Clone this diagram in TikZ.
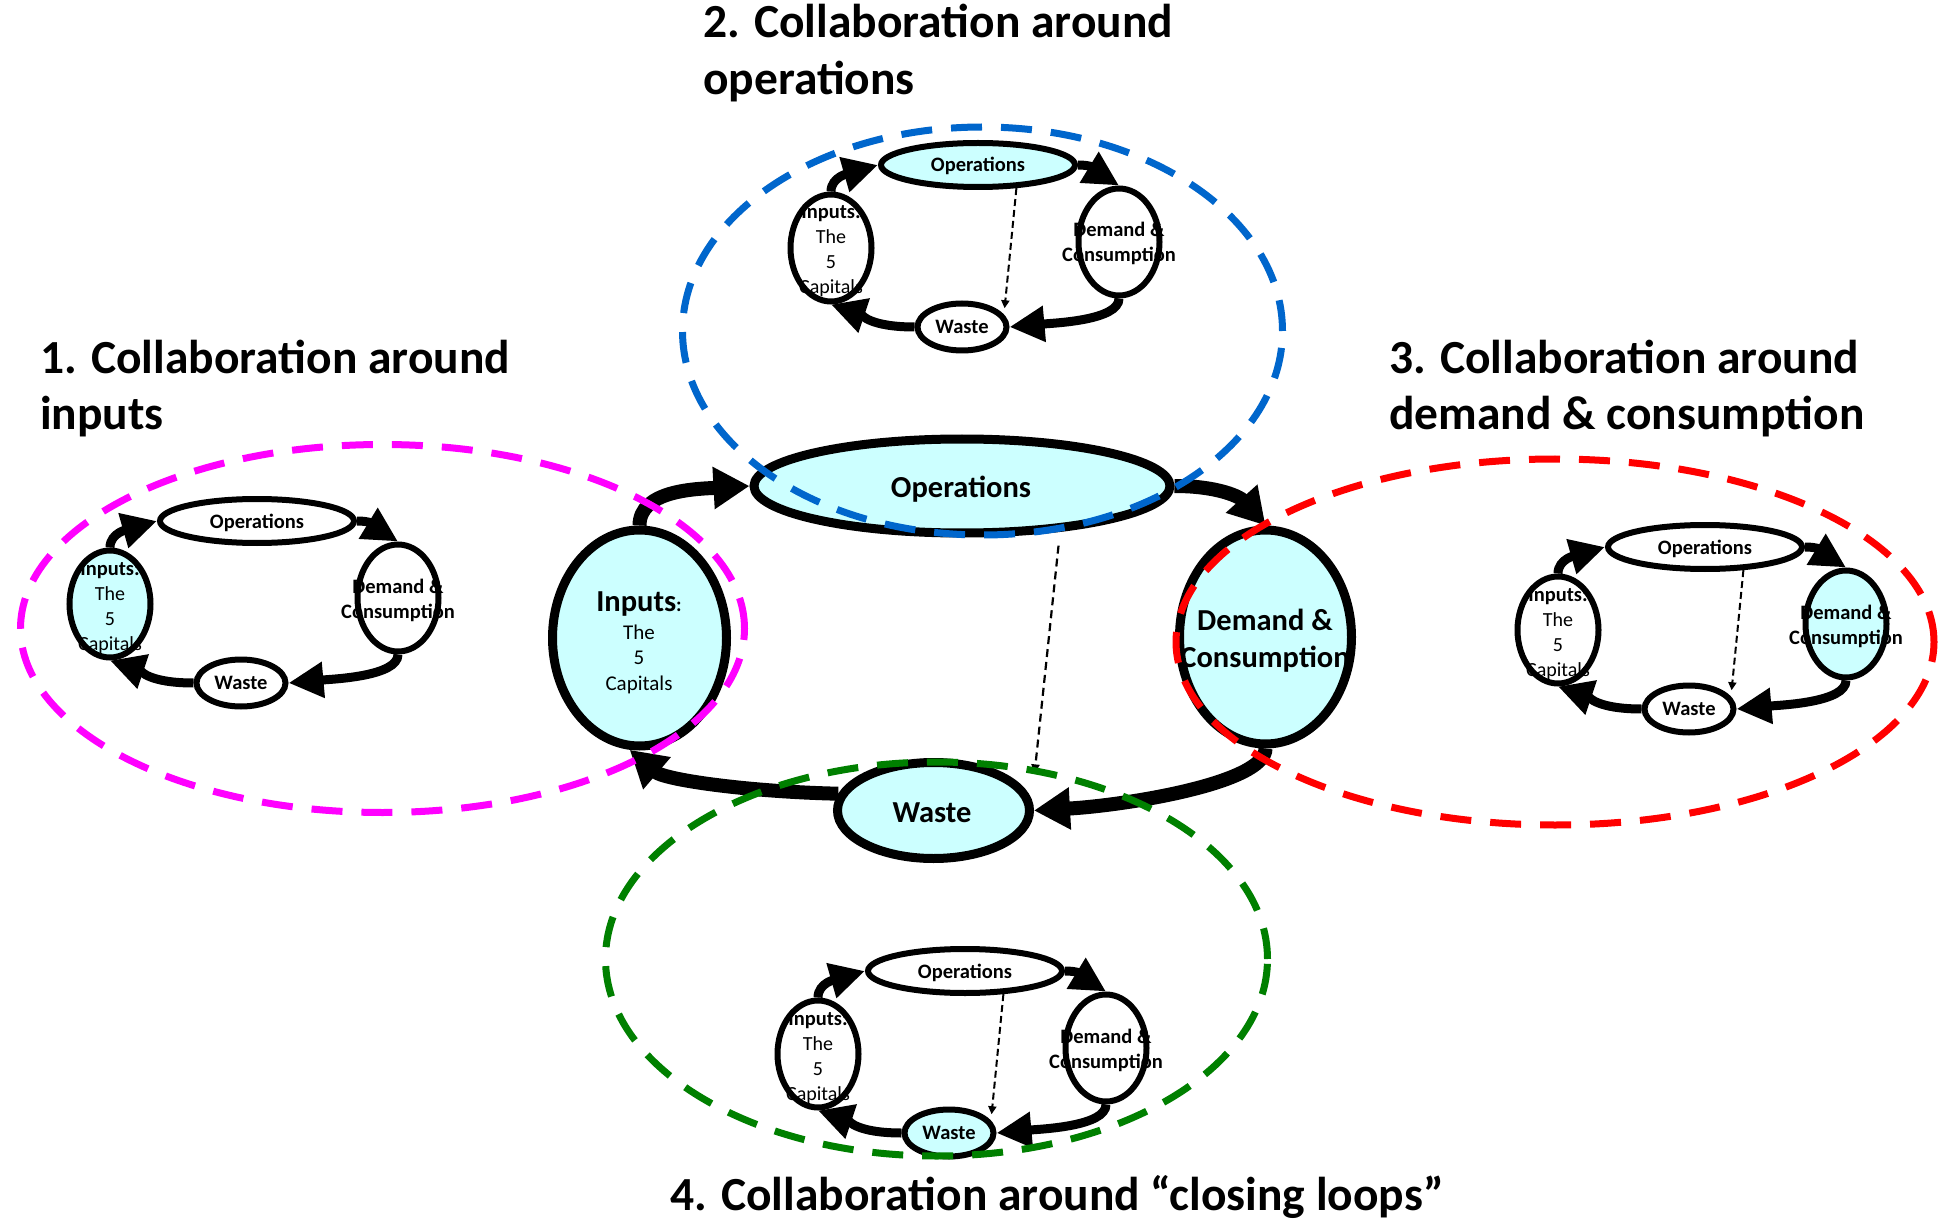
\documentclass[tikz,border=0pt]{standalone}
\usepackage{fontspec}
\setmainfont{Carlito}
\usetikzlibrary{arrows.meta,shapes.geometric}
\definecolor{cy}{RGB}{204,255,255}
\definecolor{mag}{RGB}{255,0,255}
\definecolor{blu}{RGB}{0,102,204}
\definecolor{rd}{RGB}{255,0,0}
\definecolor{grn}{RGB}{0,128,0}
\tikzset{
 cfill/.style={ellipse, inner sep=0pt, outer sep=4.5pt},
 cring/.style={draw=black, line width=9pt},
 carrow/.style={line width=14pt, -{Triangle[length=36pt,width=40pt]}},
 cdash/.style={line width=2.2pt, dash pattern=on 8pt off 5pt, -{Triangle[length=9pt,width=8pt]}},
 ctb/.style={font=\fontsize{30.5}{36}\selectfont\bfseries, anchor=base, inner sep=0pt},
 ctr/.style={font=\fontsize{21}{25}\selectfont, anchor=base, inner sep=0pt},
 sops/.style={ellipse, inner sep=0pt, outer sep=3pt, minimum width=194pt, minimum height=44pt},
 sside/.style={ellipse, inner sep=0pt, outer sep=3pt, minimum width=81pt, minimum height=107pt},
 swaste/.style={ellipse, inner sep=0pt, outer sep=3pt, minimum width=89pt, minimum height=47pt},
 sring/.style={draw=black, line width=6pt},
 sarrow/.style={line width=9pt, -{Triangle[length=35pt,width=34pt]}},
 sdash/.style={line width=2pt, dash pattern=on 7pt off 4pt, -{Triangle[length=8pt,width=8pt]}},
 stb/.style={font=\fontsize{20.5}{24}\selectfont\bfseries, anchor=base, inner sep=0pt},
 str/.style={font=\fontsize{20}{24}\selectfont, anchor=base, inner sep=0pt},
 zone/.style={line width=7pt, dash pattern=on 31pt off 19pt},
 ttl/.style={font=\fontsize{47.5}{56}\selectfont\bfseries, anchor=base west, inner sep=0pt},
}
\newcommand\smalldiag[7]{%
\begin{scope}[shift={(#2,#3)}]
\node[sops,fill=#4] (#1ops) at (0,0) {};
\node[sside,fill=#5] (#1in) at (-147,83) {};
\node[sside,fill=#6] (#1dem) at (141,77) {};
\node[swaste,fill=#7] (#1waste) at (-16,162) {};
\node[stb] (#1opst) at (0,7) {Operations};
\node[stb] (#1inA) at (-147,54) {Inputs:};
\node[str] (#1inB) at (-147,79) {The};
\node[str] (#1inC) at (-147,104) {5};
\node[str] (#1inD) at (-147,129) {Capitals};
\node[stb] (#1demA) at (141,72) {Demand \&};
\node[stb] (#1demB) at (141,97) {Consumption};
\node[stb] (#1wt) at (-16,168.5) {Waste};
\draw[sring] (#1ops.center) ellipse[x radius=97pt,y radius=22pt];
\draw[sring] (#1in.center) ellipse[x radius=40.5pt,y radius=53.5pt];
\draw[sring] (#1dem.center) ellipse[x radius=40.5pt,y radius=53.5pt];
\draw[sring] (#1waste.center) ellipse[x radius=44.5pt,y radius=23.5pt];
\draw[sarrow] (#1in.north) .. controls +(0,-15) and +(-28,8) .. (#1ops.west);
\draw[sarrow] (#1ops.east) .. controls +(22,0) and +(-18,-11) .. (#1dem.north);
\draw[sarrow] (#1dem.south) .. controls +(0,22) and +(45,-4) .. (#1waste.east);
\draw[sarrow] (#1waste.west) .. controls +(-45,0) and +(30,10) .. (#1in.south);
\coordinate (#1dend) at ([xshift=9pt]#1waste.north east);
\end{scope}}
\begin{document}
\begin{tikzpicture}[x=1pt,y=-1pt]
\fill[white] (0,0) rectangle (1939,1222);
\useasboundingbox (0,0) rectangle (1939,1222);
% central diagram
\node[cfill, fill=cy, minimum width=416pt, minimum height=94pt] (cops) at (962,486) {};
\node[cfill, fill=cy, minimum width=174pt, minimum height=216pt] (cin) at (639.5,638) {};
\node[cfill, fill=cy, minimum width=172pt, minimum height=214pt] (cdem) at (1265.5,637) {};
\node[cfill, fill=cy, minimum width=192pt, minimum height=96pt] (cwaste) at (933.5,810.5) {};
\node[ctb] (copst) at (961,497) {Operations};
\node[ctb] (cinA) at (639,611.5) {Inputs{\fontsize{20}{24}\selectfont:}};
\node[ctr] (cinB) at (639,639) {The};
\node[ctr] (cinC) at (639,664) {5};
\node[ctr] (cinD) at (639,690) {Capitals};
\node[ctb] (cdemA) at (1265,630) {Demand \&};
\node[ctb] (cdemB) at (1265,667) {Consumption};
\node[ctb] (cwt) at (932,822) {Waste};
\draw[cring] (cops.center) ellipse[x radius=208pt, y radius=47pt];
\draw[cring] (cin.center) ellipse[x radius=87pt, y radius=108pt];
\draw[cring] (cdem.center) ellipse[x radius=86pt, y radius=107pt];
\draw[cring] (cwaste.center) ellipse[x radius=96pt, y radius=48pt];
\draw[carrow] (cin.north) .. controls +(0,-35) and +(-55,3) .. (cops.west);
\draw[carrow] (cops.east) .. controls +(45,0) and +(-25,-28) .. (cdem.north);
\draw[carrow] (cdem.south) .. controls +(0,35) and +(90,-5) .. (cwaste.east);
\draw[carrow] (cwaste.170) .. controls +(-90,-2) and +(35,30) .. (cin.-95);
\coordinate (cdend) at ([xshift=30pt]cwaste.north east);
\draw[cdash, shorten <=14pt] (cops.-25) -- (cdend);
% small diagrams
\smalldiag{a}{257}{521}{white}{cy}{white}{white}
\smalldiag{b}{978}{165}{cy}{white}{white}{white}
\smalldiag{c}{1705}{547}{white}{white}{cy}{white}
\smalldiag{d}{965}{971}{white}{white}{white}{cy}
\draw[sdash] (bops.-31) -- (bdend);
\draw[sdash] (cops.-31) -- (cdend);
\draw[sdash] (dops.-31) -- (ddend);
% dashed zones
\draw[zone, mag] (382.5,628.5) ellipse[x radius=362pt, y radius=184pt];
\draw[zone, blu] (982.5,331) ellipse[x radius=300pt, y radius=204pt];
\draw[zone, rd] (1555,642) ellipse[x radius=379pt, y radius=183pt];
\draw[zone, grn] (936.5,959) ellipse[x radius=331pt, y radius=197pt];
% titles
\node[ttl] (t1a) at (40,374) {1. Collaboration around};
\node[ttl] (t1b) at (40,430) {inputs};
\node[ttl] (t2a) at (703,38) {2. Collaboration around};
\node[ttl] (t2b) at (703,95) {operations};
\node[ttl] (t3a) at (1389,374) {3. Collaboration around};
\node[ttl] (t3b) at (1389,430) {demand \& consumption};
\node[ttl] (t4) at (670,1210) {4. Collaboration around “closing loops”};
\end{tikzpicture}
\end{document}
